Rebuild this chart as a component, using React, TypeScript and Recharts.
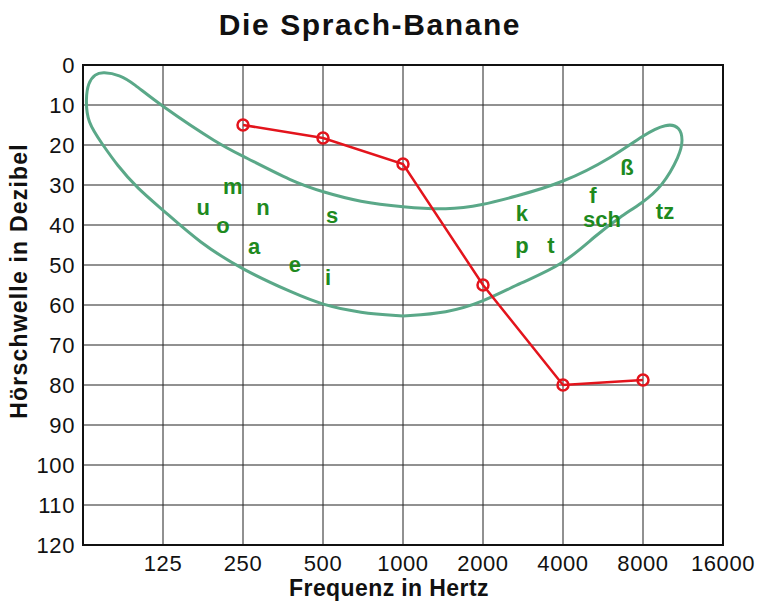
import React from "react";
import { ComposedChart, Line, Scatter, XAxis, YAxis, CartesianGrid, ReferenceArea } from "recharts";

// Frequenz-Achse (Hz) und Pegel-Achse (dB)
const freqTicks = [125, 250, 500, 1000, 2000, 4000, 8000, 16000];
const dbTicks = [0, 10, 20, 30, 40, 50, 60, 70, 80, 90, 100, 110, 120];

// Hörschwelle (rote Kurve)
const hearingFreq = [250, 500, 1000, 2000, 4000, 8000];
const hearingDb = [15, 18.25, 24.75, 55, 80, 78.75];

// Umriss der Sprach-Banane, einmal rundherum
const bananaFreq = [
  1000, 689, 500, 386, 250, 172, 125, 99.8, 83.9, 74.3, 64.7, 64.1, 65.3,
  69.4, 74.3, 86.1, 96.4, 121.8, 204.8, 250, 385.6, 500, 689, 1000, 1464,
  2000, 2594, 4000, 6169, 8000, 9849, 11023, 11314, 11023, 9431, 7931, 6555,
  5325, 4000, 2756, 2000, 1464, 1000,
];
const bananaDb = [
  62.75, 62, 60, 57, 51.25, 44.5, 36.25, 30.75, 25, 20, 14.25, 8.25, 4.5,
  2.25, 1.75, 2.5, 4.5, 10, 20, 22.75, 29.25, 31.75, 34.25, 35.5, 36.25,
  35, 33, 29.5, 23, 17.5, 14.5, 15.5, 18.75, 22.5, 30.5, 34.5, 38,
  42.5, 50, 54.5, 59.25, 62, 62.75,
];

// Laute in der Banane
const soundLabels = ["m", "u", "n", "o", "a", "e", "s", "i", "k", "p", "t", "f", "sch", "ß", "tz"];
const soundFreq = [229, 177, 297, 210, 275, 392, 541, 522, 2804, 2804, 3605, 5187, 5607, 6964, 9681];
const soundDb = [30.25, 35.5, 35.5, 40, 45.25, 49.75, 37.5, 53, 37, 45, 45, 32.5, 38.5, 25.5, 36.5];

const hearing = hearingFreq.map((freq, i) => ({ freq, db: hearingDb[i] }));
const banana = bananaFreq.map((freq, i) => ({ freq, db: bananaDb[i] }));
const sounds = soundLabels.map((label, i) => ({ freq: soundFreq[i], db: soundDb[i], label }));

const FONT = "'Liberation Sans', Arial, sans-serif";

// eslint-disable-next-line @typescript-eslint/no-explicit-any
function SoundLabel({ cx, cy, payload }: any) {
  return (
    <text
      x={cx}
      y={cy}
      textAnchor="middle"
      dominantBaseline="central"
      fill="#1e8a1e"
      fontSize={22}
      fontWeight="bold"
      fontFamily={FONT}
    >
      {payload.label}
    </text>
  );
}

export default function App() {
  return (
    <div style={{ position: "absolute", left: 0, top: 0, width: 758, height: 606, background: "#fff", fontFamily: FONT }}>
      <ComposedChart width={758} height={606} margin={{ top: 65, right: 35, bottom: 21, left: 0 }}>
        <CartesianGrid stroke="#222" strokeWidth={1} />
        <XAxis
          dataKey="freq"
          type="number"
          scale="log"
          domain={[62.5, 16000]}
          ticks={freqTicks}
          allowDataOverflow
          axisLine={false}
          tickLine={false}
          tickSize={0}
          tickMargin={10}
          height={40}
          tick={{ fill: "#111", fontSize: 22, letterSpacing: 0.6 }}
        />
        <YAxis
          dataKey="db"
          type="number"
          reversed
          domain={[0, 120]}
          ticks={dbTicks}
          interval={0}
          axisLine={false}
          tickLine={false}
          tickSize={0}
          tickMargin={8}
          width={83}
          tick={{ fill: "#111", fontSize: 22, letterSpacing: 0.6 }}
        />
        <ReferenceArea x1={62.5} x2={16000} y1={0} y2={120} fill="none" stroke="#111" strokeWidth={2} ifOverflow="visible" />
        <Line
          data={banana}
          dataKey="db"
          type="basis"
          stroke="#5aa888"
          strokeWidth={3}
          dot={false}
          activeDot={false}
          isAnimationActive={false}
        />
        <Scatter data={sounds} dataKey="db" shape={SoundLabel} isAnimationActive={false} />
        <Line
          data={hearing}
          dataKey="db"
          type="linear"
          stroke="#e3141c"
          strokeWidth={2.5}
          dot={{ r: 5.5, stroke: "#e3141c", strokeWidth: 2.5, fill: "none" }}
          activeDot={false}
          isAnimationActive={false}
        />
      </ComposedChart>
      <svg width={758} height={606} style={{ position: "absolute", left: 0, top: 0, pointerEvents: "none" }}>
        <text x={370} y={35} textAnchor="middle" fontSize={30} fontWeight="bold" letterSpacing={1.6} fill="#111">
          Die Sprach-Banane
        </text>
        <text x={389} y={596} textAnchor="middle" fontSize={23} fontWeight="bold" letterSpacing={0.4} fill="#111">
          Frequenz in Hertz
        </text>
        <text
          x={27}
          y={281}
          textAnchor="middle"
          fontSize={23}
          fontWeight="bold"
          letterSpacing={1.2}
          fill="#111"
          transform="rotate(-90 27 281)"
        >
          Hörschwelle in Dezibel
        </text>
      </svg>
    </div>
  );
}
